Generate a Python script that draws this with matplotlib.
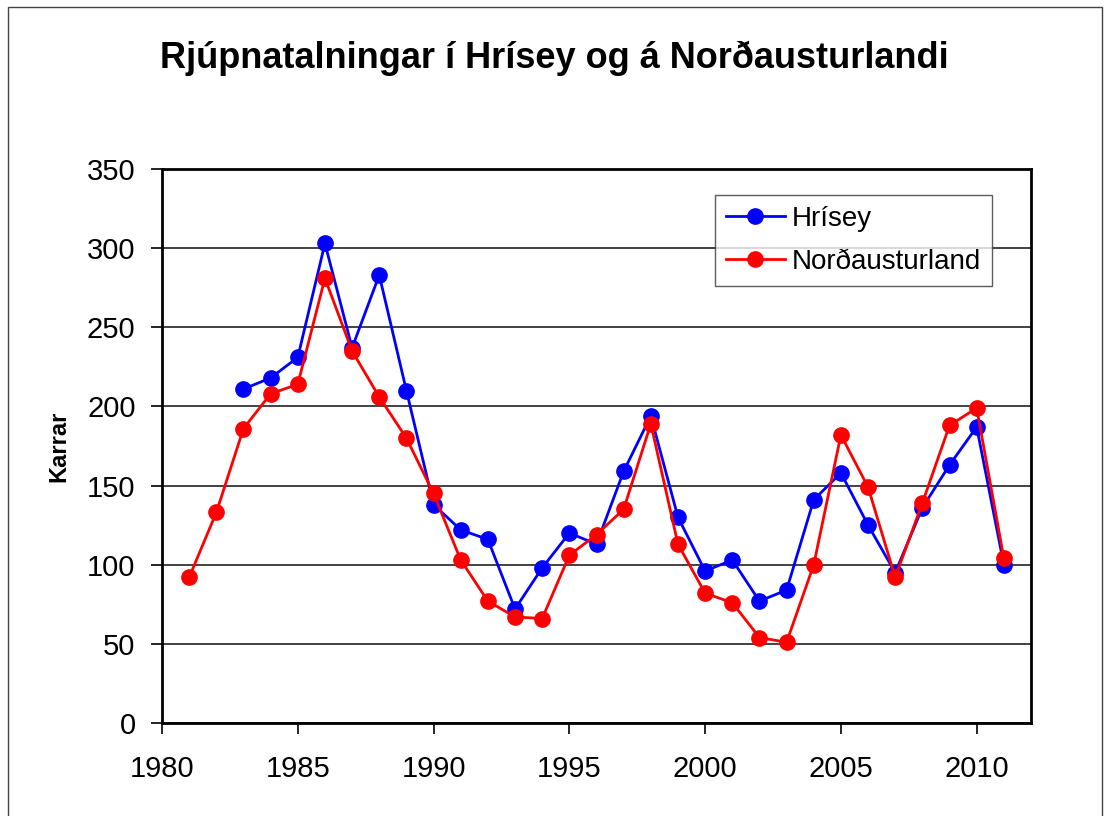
import matplotlib
matplotlib.use("Agg")
import matplotlib.pyplot as plt
from matplotlib.patches import Rectangle

plt.rcParams['font.family'] = ['Liberation Sans', 'DejaVu Sans']

# ======================
# DATA
# ======================
hrisey_years = list(range(1983, 2012))
hrisey = [211, 218, 231, 303, 237, 283, 210, 138, 122, 116, 72, 98, 120, 113,
          159, 194, 130, 96, 103, 77, 84, 141, 158, 125, 95, 136, 163, 187, 100]

ne_years = list(range(1981, 2012))
nordausturland = [92, 133, 186, 208, 214, 281, 235, 206, 180, 145, 103, 77, 67,
                  66, 106, 119, 135, 189, 113, 82, 76, 54, 51, 100, 182, 149,
                  92, 139, 188, 199, 104]

x_ticks = [1980, 1985, 1990, 1995, 2000, 2005, 2010]
y_ticks = [0, 50, 100, 150, 200, 250, 300, 350]

# ======================
# FIGURE
# ======================
fig = plt.figure(figsize=(11.05, 8.16), dpi=100)
ax = fig.add_axes([162/1105, 1 - 723/816, (1031-162)/1105, (723-169)/816])

ax.plot(hrisey_years, hrisey, color='#0000ff', lw=2.0, marker='o', ms=11,
        label='Hrísey', zorder=3)
ax.plot(ne_years, nordausturland, color='#ff0000', lw=2.0, marker='o', ms=11,
        label='Norðausturland', zorder=4)

ax.set_xlim(1980, 2012)
ax.set_ylim(0, 350)
ax.set_xticks(x_ticks)
ax.set_yticks(y_ticks)
ax.tick_params(labelsize=21, direction='out', length=8, width=1.2)
ax.tick_params(axis='y', pad=11)
ax.tick_params(axis='x', pad=15)
ax.yaxis.grid(True, color='#222222', lw=1.2)
ax.set_axisbelow(True)
for s in ax.spines.values():
    s.set_linewidth(2.0)

ax.set_ylabel('Karrar', fontsize=17, fontweight='bold', labelpad=12)

leg = ax.legend(loc='upper right', bbox_to_anchor=(0.955, 0.953), fontsize=20,
                frameon=True, fancybox=False, edgecolor='#333333',
                borderaxespad=0, borderpad=0.4, handlelength=2.1,
                handletextpad=0.25, labelspacing=0.6)
leg.get_frame().set_linewidth(1.0)

fig.text(0.5 + 2/1105, 1 - 68/816, 'Rjúpnatalningar í Hrísey og á Norðausturlandi',
         ha='center', va='baseline', fontsize=26, fontweight='bold')

# frame round the whole chart
fig.patches.append(Rectangle((8/1105, -0.01), 1094/1105, 1.01 - 7/816,
                             transform=fig.transFigure, fill=False,
                             edgecolor='#444444', lw=1.0))

fig.savefig('out.png', dpi=100)
